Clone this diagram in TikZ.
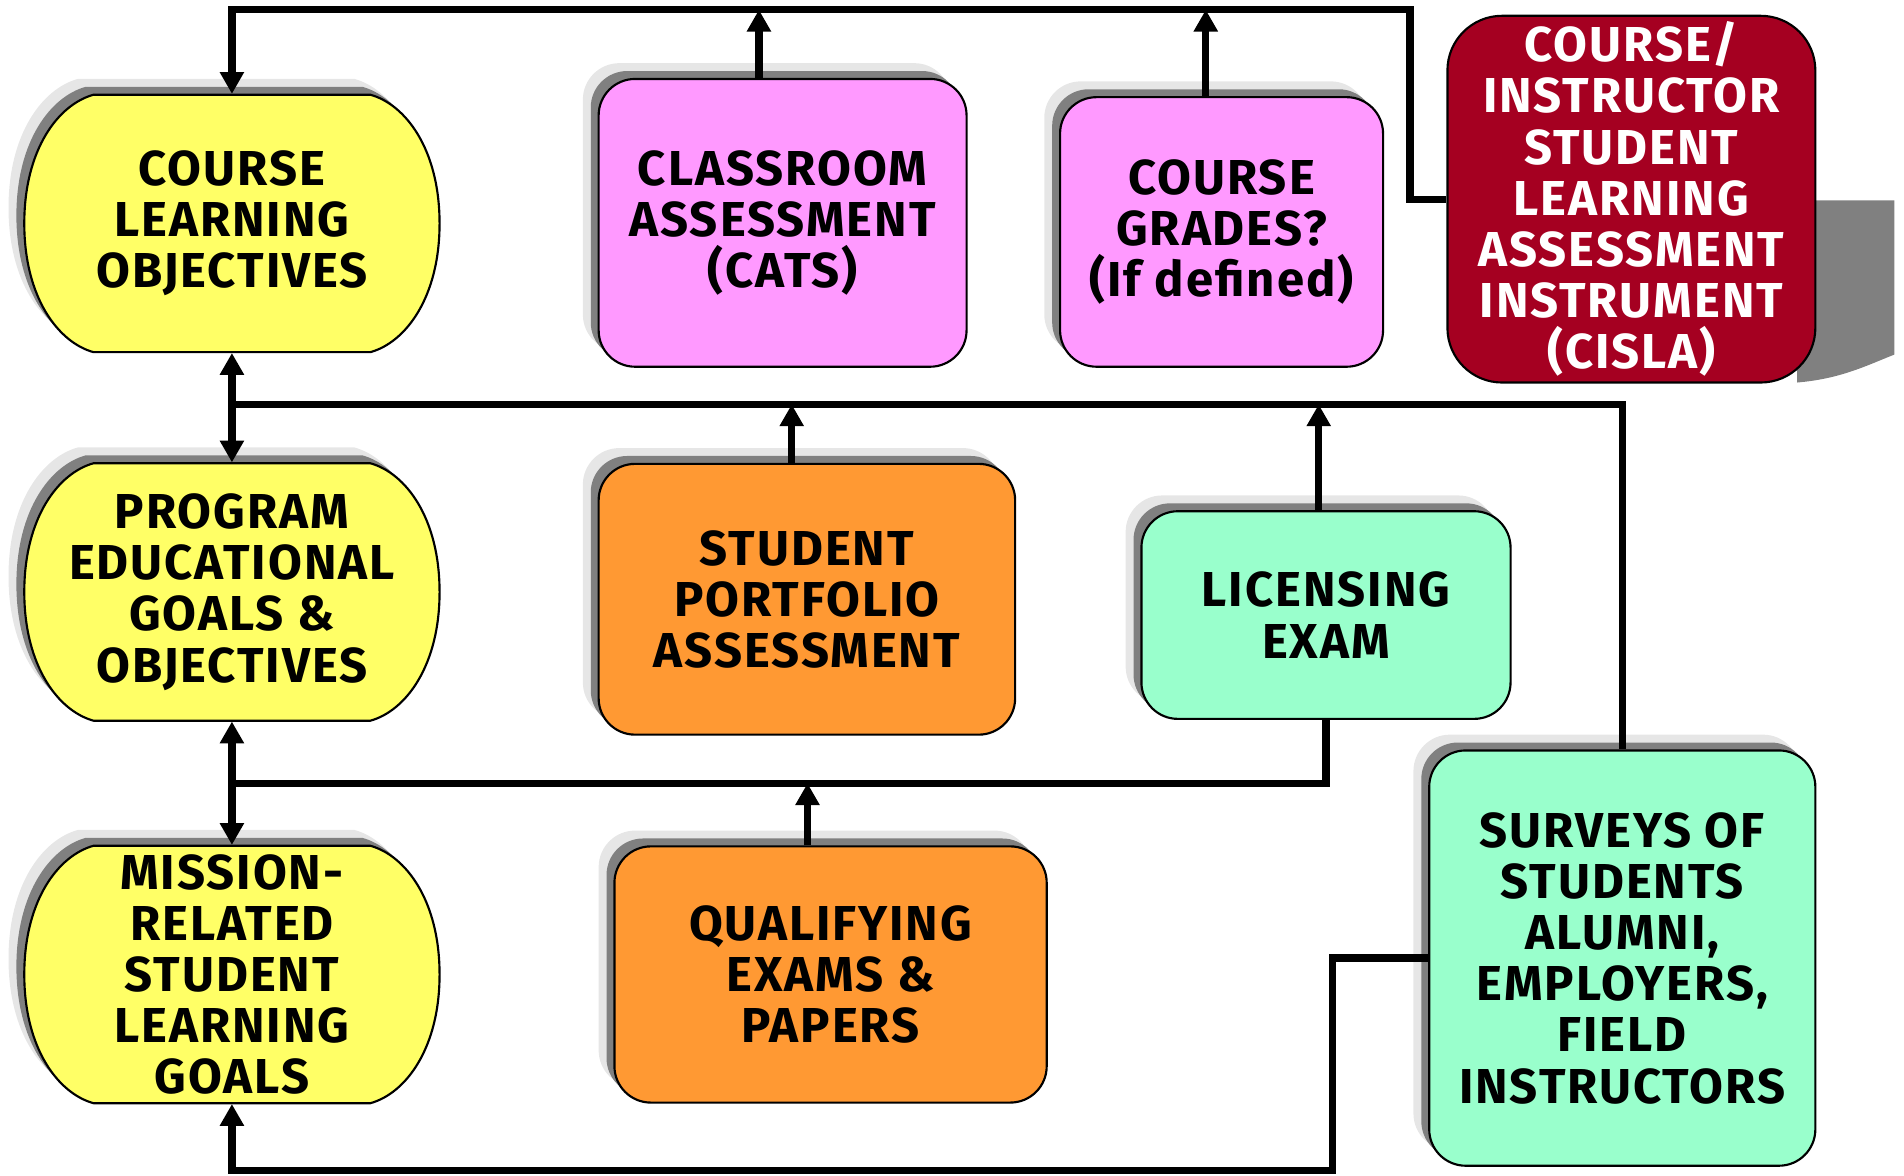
\documentclass[tikz,border=0pt]{standalone}
\usepackage{fontspec}
\setmainfont{Fira Sans}[LetterSpace=4]
\usetikzlibrary{arrows.meta,shadows,positioning}
\definecolor{goalYellow}{HTML}{FFFF66}
\definecolor{cisPink}{HTML}{FF99FF}
\definecolor{examOrange}{HTML}{FF9933}
\definecolor{extMint}{HTML}{99FFCC}
\definecolor{cislaRed}{HTML}{A50021}
\definecolor{shadeDark}{HTML}{808080}
\definecolor{shadeLight}{HTML}{E6E6E6}
\newcommand{\diagfont}{\bfseries\fontsize{11.5}{12}\selectfont}
% barrel outline behind a goal node, centre given in picture units
\newcommand{\goalbarrel}[2]{%
  \path[goalfill] (#1-114,#2-106) -- (#1+114,#2-106) .. controls (#1+143,#2-98) and (#1+171,#2-61) .. (#1+171,#2) .. controls (#1+171,#2+61) and (#1+143,#2+98) .. (#1+114,#2+106) -- (#1-114,#2+106) .. controls (#1-143,#2+98) and (#1-171,#2+61) .. (#1-171,#2) .. controls (#1-171,#2-61) and (#1-143,#2-98) .. cycle;}

\begin{document}
\begin{tikzpicture}[x=0.1mm, y=-0.1mm, >={Triangle[length=1.8mm,width=1.9mm]},
  shade2/.style={general shadow={shadow xshift=-1.3mm, shadow yshift=1.3mm, fill=shadeLight}, general shadow={shadow xshift=-0.65mm, shadow yshift=0.65mm, fill=shadeDark}},
  goalfill/.style={draw=black, line width=0.5pt, fill=goalYellow, shade2},
  goaltext/.style={rectangle, minimum width=34.2mm, minimum height=21.2mm, inner sep=0pt, align=center, font=\diagfont},
  measure/.style={rectangle, rounded corners=3mm, draw=black, line width=0.5pt, inner sep=0pt, align=center, font=\diagfont, shade2},
  link/.style={line width=0.6mm}]
\useasboundingbox (0,0) rectangle (1568,968);

\goalbarrel{191}{184}
\goalbarrel{191}{487.5}
\goalbarrel{191}{802.5}
\node[goaltext] (clo) at (191,184) {COURSE\\LEARNING\\OBJECTIVES};
\node[goaltext] (pego) at (191,487.5) {PROGRAM\\EDUCATIONAL\\GOALS \&\\OBJECTIVES};
\node[goaltext] (mrslg) at (191,802.5) {MISSION-\\RELATED\\STUDENT\\LEARNING\\GOALS};

\node[measure, fill=cisPink, minimum width=30.3mm, minimum height=23.7mm] (cats) at (644.5,183.5) {CLASSROOM\\ASSESSMENT\\(CATS)};
\node[measure, fill=cisPink, minimum width=26.6mm, minimum height=22.2mm] (grades) at (1006,191) {COURSE\\GRADES?\\(If defined)};
\fill[shadeDark] (1480,165) -- (1560,165) -- (1560,292) .. controls (1535,302) and (1515,312) .. (1480,315) -- cycle;
\node[rectangle, rounded corners=4.5mm, draw=black, line width=0.5pt, fill=cislaRed, text=white, inner sep=0pt, align=center, font=\diagfont, minimum width=30.3mm, minimum height=30.2mm] (cisla) at (1343.5,164) {COURSE/\\INSTRUCTOR\\STUDENT\\LEARNING\\ASSESSMENT\\INSTRUMENT\\(CISLA)};

\node[measure, fill=examOrange, minimum width=34.3mm, minimum height=22.3mm] (spa) at (664.5,493.5) {STUDENT\\PORTFOLIO\\ASSESSMENT};
\node[measure, fill=extMint, minimum width=30.4mm, minimum height=17.1mm] (lic) at (1092,506.5) {LICENSING\\EXAM};
\node[measure, fill=examOrange, minimum width=35.6mm, minimum height=21.1mm] (qual) at (684,802.5) {QUALIFYING\\EXAMS \&\\PAPERS};
\node[measure, fill=extMint, minimum width=31.8mm, minimum height=34.2mm] (surveys) at (1336,789) {SURVEYS OF\\STUDENTS\\ALUMNI,\\EMPLOYERS,\\FIELD\\INSTRUCTORS};

\coordinate (topbus) at (0,8);
\coordinate (midbus) at (0,333);
\coordinate (lowbus) at (0,645);
\coordinate (botbus) at (0,964);

\draw[link,->] (cisla.west) -- ++(-30,0) |- (clo.north |- topbus) -- (clo.north);
\draw[link,->] ([xshift=-1.95mm]cats.north) -- ([xshift=-1.95mm]cats.north |- topbus);
\draw[link,->] ([xshift=-1.3mm]grades.north) -- ([xshift=-1.3mm]grades.north |- topbus);

\draw[link] (surveys.north) |- (clo.south |- midbus);
\draw[link,<->] (clo.south) -- (pego.north);
\draw[link,->] ([xshift=-1.25mm]spa.north) -- ([xshift=-1.25mm]spa.north |- midbus);
\draw[link,->] ([xshift=-0.6mm]lic.north) -- ([xshift=-0.6mm]lic.north |- midbus);

\draw[link] (lic.south) |- (pego.south |- lowbus);
\draw[link,<->] (pego.south) -- (mrslg.north);
\draw[link,->] ([xshift=-1.9mm]qual.north) -- ([xshift=-1.9mm]qual.north |- lowbus);

\draw[link,->] (surveys.west) -- ++(-79,0) |- (mrslg.south |- botbus) -- (mrslg.south);
\end{tikzpicture}
\end{document}
